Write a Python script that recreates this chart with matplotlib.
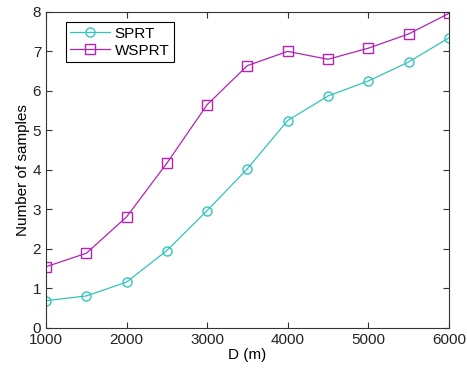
import matplotlib
matplotlib.use('Agg')
import matplotlib.pyplot as plt

# Données
distances = [1000, 1500, 2000, 2500, 3000, 3500, 4000, 4500, 5000, 5500, 6000]
sprt = [0.69, 0.81, 1.16, 1.96, 2.97, 4.03, 5.25, 5.87, 6.25, 6.73, 7.34]
wsprt = [1.55, 1.89, 2.81, 4.17, 5.65, 6.64, 7.00, 6.80, 7.08, 7.44, 7.96]

plt.rcParams['font.family'] = ['Liberation Sans', 'DejaVu Sans']

fig = plt.figure(figsize=(4.67, 3.71), dpi=100)
ax = fig.add_axes([0.0985, 0.116, 0.8625, 0.852])

ax.plot(distances, sprt, color='#33c4bc', marker='o', markersize=6.5,
        markerfacecolor='none', linewidth=0.9, label='SPRT')
ax.plot(distances, wsprt, color='#b423b4', marker='s', markersize=6.5,
        markerfacecolor='none', linewidth=0.9, label='WSPRT')

ax.set_xlim(1000, 6000)
ax.set_ylim(0, 8)
ax.set_xticks(range(1000, 6001, 1000))
ax.set_yticks(range(0, 9))
ax.tick_params(direction='in', top=True, right=True, labelsize=11, length=4,
               colors='#333333', labelcolor='#222222')
for s in ax.spines.values():
    s.set_color('#333333')

ax.set_xlabel('D (m)', fontsize=11, labelpad=1)
ax.set_ylabel('Number of samples', fontsize=11, labelpad=2)

leg = ax.legend(loc='upper left', bbox_to_anchor=(0.03, 0.992), fontsize=11,
                fancybox=False, edgecolor='black', framealpha=1,
                handlelength=2.6, borderpad=0.3, labelspacing=0.2,
                handletextpad=0.3)
leg.get_frame().set_linewidth(0.8)

fig.savefig('out.png', dpi=100)
